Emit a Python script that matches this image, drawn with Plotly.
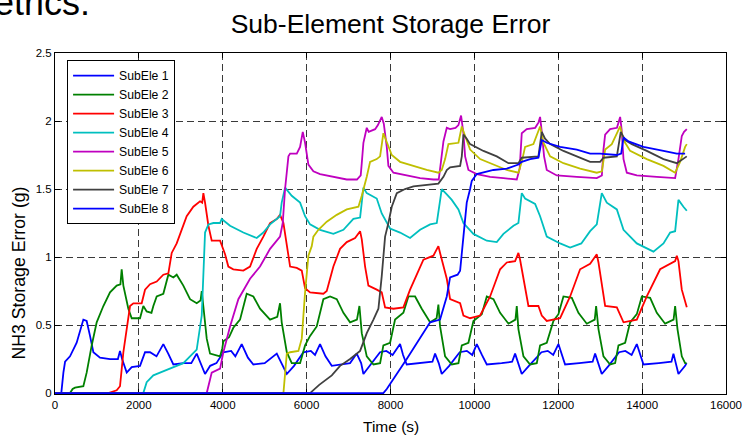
import plotly.graph_objects as go

# ---------------- data ----------------
x_ticks = [0, 2000, 4000, 6000, 8000, 10000, 12000, 14000, 16000]
x_tick_labels = ["0", "2000", "4000", "6000", "8000", "10000", "12000", "14000", "16000"]
y_ticks = [0, 0.5, 1, 1.5, 2, 2.5]
y_tick_labels = ["0", "0.5", "1", "1.5", "2", "2.5"]

series_names = ["SubEle 1", "SubEle 2", "SubEle 3", "SubEle 4",
                "SubEle 5", "SubEle 6", "SubEle 7", "SubEle 8"]

t1 = [0, 150, 200, 240, 358, 517, 676, 755, 835, 915, 1073, 1312, 1500, 1550, 1600, 1710, 1829, 2027,
      2147, 2266, 2420, 2583, 2700, 2822, 3060, 3250, 3379, 3578, 3700, 3850, 4014, 4200, 4300, 4452,
      4600, 4730, 5000, 5288, 5400, 5527, 5700, 5922, 6100, 6200, 6320, 6450, 6599, 6797, 7036, 7195,
      7300, 7354, 7500, 7750, 7900, 8050, 8228, 8300, 8387, 8700, 9000, 9063, 9150, 9222, 9400, 9650,
      9820, 9950, 10057, 10180, 10296, 10650, 10900, 10971, 11050, 11130, 11300, 11600, 11750, 11880,
      12004, 12090, 12163, 12500, 12820, 12879, 12950, 13038, 13200, 13450, 13600, 13750, 13873, 13950,
      14032, 14400, 14700, 14747, 14800, 14866, 15025, 15060]
v1 = [0, 0, 0.15, 0.23, 0.27, 0.37, 0.54, 0.53, 0.42, 0.30, 0.26, 0.25, 0.25, 0.31, 0.25, 0.15, 0.19, 0.20,
      0.30, 0.30, 0.27, 0.36, 0.29, 0.21, 0.22, 0.22, 0.29, 0.14, 0.20, 0.22, 0.30, 0.31, 0.27, 0.36,
      0.26, 0.21, 0.22, 0.29, 0.22, 0.14, 0.20, 0.30, 0.31, 0.28, 0.36, 0.27, 0.20, 0.21, 0.22, 0.29,
      0.22, 0.14, 0.20, 0.30, 0.31, 0.28, 0.36, 0.28, 0.21, 0.22, 0.23, 0.29, 0.22, 0.14, 0.20, 0.30,
      0.31, 0.28, 0.36, 0.28, 0.21, 0.22, 0.23, 0.29, 0.22, 0.14, 0.20, 0.30, 0.31, 0.28,
      0.36, 0.28, 0.21, 0.22, 0.23, 0.29, 0.22, 0.14, 0.20, 0.30, 0.31, 0.28, 0.36, 0.28,
      0.21, 0.22, 0.23, 0.29, 0.22, 0.14, 0.20, 0.22]

t2 = [0, 358, 420, 477, 676, 755, 875, 994, 1153, 1312, 1471, 1560, 1590, 1630, 1749, 1829, 2027, 2106,
      2186, 2300, 2345, 2425, 2583, 2703, 2822, 2902, 3060, 3220, 3379, 3470, 3499, 3538, 3618, 3697,
      3936, 3990, 4014, 4150, 4252, 4412, 4571, 4730, 4889, 5128, 5300, 5366, 5406, 5527, 5645, 5844,
      5963, 6082, 6241, 6399, 6559, 6718, 6877, 7036, 7200, 7259, 7315, 7434, 7593, 7752, 7830, 7990,
      8109, 8307, 8427, 8586, 8745, 8944, 9100, 9142, 9182, 9302, 9461, 9620, 9700, 9858, 9977, 10176,
      10296, 10455, 10614, 10813, 10980, 11011, 11050, 11170, 11329, 11488, 11567, 11726, 11885, 12004,
      12124, 12323, 12481, 12680, 12870, 12903, 12959, 13078, 13237, 13356, 13436, 13595, 13714, 13873,
      13993, 14191, 14350, 14548, 14750, 14787, 14843, 14946, 15025, 15060]
v2 = [0, 0, 0.03, 0.04, 0.05, 0.15, 0.35, 0.52, 0.64, 0.74, 0.79, 0.80, 0.91, 0.79, 0.62, 0.55, 0.55, 0.64,
      0.60, 0.59, 0.64, 0.71, 0.73, 0.87, 0.85, 0.87, 0.79, 0.69, 0.66, 0.68, 0.75, 0.64, 0.40, 0.29,
      0.27, 0.33, 0.38, 0.41, 0.48, 0.54, 0.73, 0.71, 0.62, 0.54, 0.56, 0.66, 0.52, 0.30, 0.22, 0.22,
      0.35, 0.42, 0.49, 0.69, 0.71, 0.69, 0.59, 0.52, 0.54, 0.64, 0.44, 0.27, 0.21, 0.22, 0.35, 0.37,
      0.54, 0.59, 0.71, 0.71, 0.62, 0.52, 0.55, 0.65, 0.49, 0.27, 0.21, 0.22, 0.35, 0.37, 0.53, 0.58,
      0.71, 0.69, 0.59, 0.51, 0.54, 0.64, 0.47, 0.27, 0.21, 0.22, 0.35, 0.37, 0.53, 0.58,
      0.71, 0.70, 0.59, 0.51, 0.54, 0.64, 0.47, 0.27, 0.21, 0.22, 0.35, 0.37, 0.52, 0.58,
      0.71, 0.70, 0.59, 0.51, 0.54, 0.64, 0.47, 0.27, 0.22, 0.22]

t3 = [0, 1272, 1471, 1550, 1630, 1710, 1789, 1868, 2067, 2147, 2266, 2425, 2583, 2703, 2783, 2902, 3021,
      3140, 3299, 3458, 3510, 3538, 3578, 3658, 3737, 3936, 4055, 4133, 4252, 4491, 4651, 4810, 4968,
      5128, 5288, 5366, 5447, 5527, 5606, 5765, 5884, 5963, 6082, 6399, 6480, 6638, 6797, 6957, 7156,
      7275, 7315, 7394, 7473, 7672, 7791, 7871, 8070, 8307, 8467, 8626, 8785, 9023, 9142, 9182, 9342,
      9421, 9660, 9739, 9898, 10137, 10375, 10614, 10773, 10971, 11050, 11090, 11209, 11289, 11527,
      11607, 11726, 12044, 12283, 12521, 12760, 12919, 12959, 13118, 13397, 13556, 13873, 14111, 14429,
      14668, 14787, 14827, 14866, 14946, 15065]
v3 = [0, 0, 0.02, 0.05, 0.30, 0.49, 0.64, 0.66, 0.66, 0.76, 0.80, 0.82, 0.87, 0.88, 1.03, 1.10, 1.20,
      1.30, 1.37, 1.41, 1.40, 1.47, 1.40, 1.23, 1.12, 1.12, 1.02, 0.93, 0.91, 0.90, 0.93, 1.06, 1.15,
      1.25, 1.28, 1.31, 1.25, 1.08, 0.93, 0.92, 0.90, 0.77, 0.74, 0.73, 0.75, 0.93, 1.06, 1.11, 1.14,
      1.19, 1.13, 0.93, 0.79, 0.76, 0.74, 0.63, 0.62, 0.63, 0.76, 0.87, 0.98, 1.01, 1.08, 1.03, 0.84,
      0.69, 0.66, 0.57, 0.55, 0.57, 0.71, 0.91, 0.96, 0.97, 1.03, 0.98, 0.79, 0.64, 0.64,
      0.57, 0.53, 0.55, 0.71, 0.91, 0.95, 1.02, 0.96, 0.64, 0.63, 0.52, 0.54, 0.71, 0.91,
      0.95, 0.97, 1.01, 0.97, 0.76, 0.63]

t4 = [0, 2106, 2186, 2345, 2504, 2822, 3060, 3220, 3379, 3499, 3538, 3578, 3658, 3777, 3936, 3975, 4174,
      4491, 4810, 4968, 5128, 5288, 5366, 5406, 5486, 5645, 5844, 5963, 6082, 6320, 6638, 6877, 7115,
      7275, 7354, 7434, 7672, 7791, 7990, 8228, 8467, 8705, 8944, 9103, 9222, 9342, 9461, 9620, 9739,
      9977, 10296, 10534, 10693, 10932, 11050, 11130, 11209, 11448, 11567, 11726, 12044, 12283, 12550,
      12760, 12919, 13038, 13158, 13397, 13556, 13873, 14270, 14509, 14668, 14787, 14866, 14985, 15065]
v4 = [0, 0, 0.08, 0.13, 0.15, 0.19, 0.22, 0.27, 0.32, 0.57, 0.88, 1.18, 1.24, 1.25, 1.25, 1.28, 1.23,
      1.18, 1.14, 1.18, 1.24, 1.28, 1.30, 1.40, 1.51, 1.45, 1.40, 1.30, 1.24, 1.20, 1.17, 1.20, 1.28,
      1.29, 1.51, 1.47, 1.43, 1.32, 1.21, 1.18, 1.14, 1.20, 1.24, 1.25, 1.50, 1.46, 1.42, 1.35, 1.25,
      1.17, 1.12, 1.11, 1.17, 1.23, 1.25, 1.47, 1.43, 1.39, 1.30, 1.15, 1.10, 1.07, 1.10,
      1.19, 1.24, 1.47, 1.40, 1.35, 1.20, 1.10, 1.04, 1.10, 1.18, 1.19, 1.42, 1.37, 1.34]

t5 = [0, 3618, 3697, 3737, 3936, 4014, 4174, 4372, 4651, 4889, 5128, 5366, 5430, 5486, 5566, 5606, 5765,
      5844, 5908, 5963, 6042, 6161, 6320, 6638, 6957, 7200, 7290, 7315, 7354, 7434, 7480, 7633, 7700,
      7791, 7840, 7911, 7950, 8070, 8387, 8705, 9023, 9150, 9199, 9262, 9342, 9421, 9550, 9620, 9683,
      9739, 9779, 9858, 10057, 10375, 10693, 11011, 11080, 11130, 11249, 11450, 11530, 11567, 11600,
      11662, 11726, 11965, 12442, 12919, 13040, 13078, 13118, 13237, 13400, 13476, 13510, 13556, 13635,
      13873, 14350, 14787, 14866, 14946, 15000, 15065]
v5 = [0, 0, 0.10, 0.15, 0.18, 0.30, 0.49, 0.69, 0.84, 0.93, 1.06, 1.15, 1.25, 1.50, 1.74, 1.76, 1.76,
      1.81, 1.92, 1.84, 1.68, 1.63, 1.61, 1.59, 1.57, 1.57, 1.60, 1.69, 1.84, 1.95, 1.92, 1.94, 1.97,
      2.03, 1.98, 1.81, 1.67, 1.62, 1.60, 1.58, 1.57, 1.57, 1.69, 1.85, 1.95, 1.94, 1.95, 1.97, 2.04,
      1.91, 1.74, 1.64, 1.61, 1.59, 1.58, 1.57, 1.65, 1.91, 1.94, 1.95, 1.99, 2.03, 1.94,
      1.74, 1.64, 1.60, 1.59, 1.58, 1.60, 1.79, 1.90, 1.94, 1.95, 2.03, 1.94, 1.72, 1.62,
      1.60, 1.59, 1.58, 1.72, 1.89, 1.92, 1.94]

t6 = [0, 5447, 5527, 5606, 5804, 5884, 5963, 6042, 6122, 6161, 6280, 6480, 6718, 6957, 7235, 7315, 7434,
      7513, 7672, 7752, 7830, 7911, 8030, 8228, 8546, 8864, 9142, 9222, 9302, 9381, 9620, 9700, 9779,
      9898, 10137, 10455, 10773, 11050, 11130, 11209, 11408, 11567, 11647, 11806, 12124, 12521, 12919,
      13040, 13118, 13277, 13476, 13556, 13714, 14111, 14509, 14787, 14906, 15025, 15065]
v6 = [0, 0, 0.29, 0.30, 0.31, 0.40, 0.74, 1.01, 1.08, 1.15, 1.20, 1.26, 1.31, 1.35, 1.37, 1.45, 1.59,
      1.70, 1.72, 1.74, 1.91, 1.84, 1.75, 1.70, 1.67, 1.64, 1.62, 1.64, 1.72, 1.83, 1.84, 1.96, 1.89,
      1.79, 1.72, 1.68, 1.64, 1.62, 1.70, 1.81, 1.83, 1.96, 1.84, 1.74, 1.69, 1.65, 1.62,
      1.63, 1.79, 1.83, 1.96, 1.86, 1.78, 1.72, 1.67, 1.62, 1.70, 1.81, 1.83]

t7 = [0, 6082, 6300, 6600, 6797, 7036, 7275, 7434, 7593, 7712, 7791, 7871, 7950, 8030, 8150, 8347, 8546,
      8864, 9142, 9262, 9342, 9421, 9660, 9700, 9739, 9818, 9898, 10216, 10534, 10813, 11050, 11130,
      11527, 11607, 11686, 11806, 12124, 12442, 12760, 12998, 13078, 13397, 13491, 13595, 13754, 14111,
      14509, 14827, 15025, 15065]
v7 = [0, 0, 0.06, 0.13, 0.20, 0.25, 0.31, 0.44, 0.54, 0.62, 0.86, 1.15, 1.25, 1.37, 1.47, 1.50, 1.52,
      1.53, 1.54, 1.59, 1.64, 1.66, 1.67, 1.74, 1.90, 1.87, 1.83, 1.78, 1.74, 1.69, 1.69, 1.73,
      1.74, 1.92, 1.87, 1.83, 1.78, 1.74, 1.70, 1.70, 1.73, 1.74, 1.92, 1.86, 1.83, 1.78,
      1.72, 1.69, 1.73, 1.74]

t8 = [0, 7830, 7911, 8387, 8944, 9182, 9342, 9421, 9600, 9660, 9739, 9818, 9898, 9938, 10057, 10216,
      10455, 10773, 11050, 11130, 11329, 11527, 11607, 11726, 12044, 12442, 12760, 12998, 13397, 13500,
      13556, 13675, 14032, 14509, 14827, 15025]
v8 = [0, 0, 0.03, 0.25, 0.52, 0.54, 0.71, 0.85, 0.87, 0.90, 1.15, 1.40, 1.50, 1.56, 1.61, 1.62,
      1.64, 1.65, 1.68, 1.70, 1.72, 1.73, 1.86, 1.84, 1.81, 1.79, 1.76, 1.76, 1.75, 1.76,
      1.88, 1.85, 1.81, 1.78, 1.76, 1.76]

series_t = [t1, t2, t3, t4, t5, t6, t7, t8]
series_v = [v1, v2, v3, v4, v5, v6, v7, v8]
colors = ["#0000FF", "#008000", "#FF0000", "#00BFBF", "#BF00BF", "#BFBF00", "#404040", "#0000FF"]

FONT = "Liberation Sans, Arial, Helvetica, sans-serif"

fig = go.Figure()
for t, v, name, col in zip(series_t, series_v, series_names, colors):
    fig.add_trace(go.Scatter(x=t, y=v, mode="lines", name=name,
                             line=dict(color=col, width=1.8)))

axis_common = dict(
    showgrid=True, gridcolor="#3a3a3a", gridwidth=1, griddash="7px,4px",
    showline=True, linecolor="black", linewidth=1, mirror="ticks",
    ticks="inside", ticklen=5, tickcolor="black", tickwidth=1,
    zeroline=False, automargin=False, layer="below traces",
    tickfont=dict(family=FONT, size=11.5, color="black"),
)

fig.update_layout(
    width=742, height=435,
    margin=dict(l=55, r=16, t=53, b=41, autoexpand=False),
    paper_bgcolor="white", plot_bgcolor="white",
    font=dict(family=FONT, color="black"),
    title=dict(text="Sub-Element Storage Error", x=0.5, xref="paper", xanchor="center",
               y=1 - 24 / 435, yref="container", yanchor="middle",
               font=dict(family=FONT, size=26.5, color="black")),
    xaxis=dict(range=[0, 16000], tickvals=x_ticks, ticktext=x_tick_labels, **axis_common),
    yaxis=dict(range=[-0.007, 2.5], tickvals=y_ticks, ticktext=y_tick_labels, **axis_common),
    legend=dict(x=0.018, y=0.979, xanchor="left", yanchor="top",
                bgcolor="white", bordercolor="black", borderwidth=1,
                itemwidth=41,
                font=dict(family=FONT, size=12.2, color="black"),
                tracegroupgap=0),
    showlegend=True,
    annotations=[
        dict(text="Time (s)", xref="paper", yref="paper", x=0.5, y=(394 - 426) / 341,
             xanchor="center", yanchor="middle", showarrow=False,
             font=dict(family=FONT, size=15.5, color="black")),
        dict(text="NH3 Storage Error (g)", xref="paper", yref="paper",
             x=(18.5 - 55) / 671, y=(394 - 273) / 341, textangle=-90,
             xanchor="center", yanchor="middle", showarrow=False,
             font=dict(family=FONT, size=17.7, color="black")),
        dict(text="Metrics:", xref="paper", yref="paper",
             x=(92 - 55) / 671, y=(394 - 25) / 341,
             xanchor="right", yanchor="bottom", showarrow=False,
             font=dict(family=FONT, size=36, color="black")),
    ],
)

fig.write_html("out.html")
